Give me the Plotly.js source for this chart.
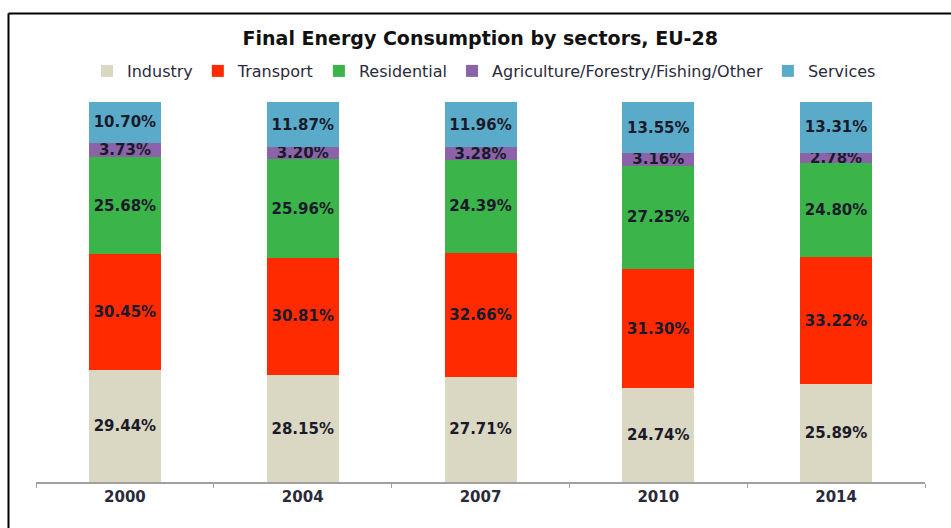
<!DOCTYPE html>
<html>
<head>
<meta charset="utf-8">
<script src="https://cdn.plot.ly/plotly-3.0.1.min.js"></script>
<style>html,body{margin:0;padding:0;background:#fff;}#chart{width:951px;height:528px;}</style>
</head>
<body>
<div id="chart"></div>
<script>
const years = ["2000", "2004", "2007", "2010", "2014"];
const industry = [29.44, 28.15, 27.71, 24.74, 25.89];
const transport = [30.45, 30.81, 32.66, 31.30, 33.22];
const residential = [25.68, 25.96, 24.39, 27.25, 24.80];
const agriculture = [3.73, 3.20, 3.28, 3.16, 2.78];
const services = [10.70, 11.87, 11.96, 13.55, 13.31];

const seriesNames = ["Industry", "Transport", "Residential", "Agriculture/Forestry/Fishing/Other", "Services"];
const seriesValues = [industry, transport, residential, agriculture, services];
const seriesColors = ["#DAD8C2", "#FF2A00", "#3BB449", "#8A63A8", "#5AABC9"];

const traces = seriesNames.map((name, i) => ({
  type: "bar",
  name: name,
  x: years,
  y: seriesValues[i],
  marker: {color: seriesColors[i]},
  text: seriesValues[i].map(v => v.toFixed(2) + "%"),
  textposition: "inside",
  insidetextanchor: "middle",
  textangle: 0,
  constraintext: "none",
  textfont: {family: "DejaVu Sans", size: 15, color: "#1a1a2a", weight: "bold"},
  hoverinfo: "skip"
}));

const W = 951, H = 528, L = 36, R = 26, T = 102, B = 46;
const pw = W - L - R, ph = H - T - B;
const px = x => (x - L) / pw;
const py = y => (H - B - y) / ph;

const layout = {
  width: W, height: H,
  barmode: "stack",
  bargap: 0.595,
  margin: {l: L, r: R, t: T, b: B},
  paper_bgcolor: "#fff",
  plot_bgcolor: "#fff",
  showlegend: true,
  title: {
    text: "<b>Final Energy Consumption by sectors, EU-28</b>",
    font: {family: "DejaVu Sans", size: 19, color: "#111"},
    x: 0.505, xanchor: "center",
    y: 1 - 38 / H, yanchor: "middle"
  },
  legend: {
    orientation: "h",
    x: px(484), xanchor: "center",
    y: py(71), yanchor: "middle",
    font: {family: "DejaVu Sans", size: 16, color: "#2a2a3a"},
    traceorder: "normal",
    itemwidth: 30,
    itemclick: false
  },
  xaxis: {
    type: "category",
    showgrid: false,
    showline: true,
    linecolor: "#a0a0a0",
    linewidth: 1.5,
    ticks: "outside",
    tickson: "boundaries",
    ticklen: 4,
    tickcolor: "#a0a0a0",
    tickfont: {family: "DejaVu Sans", size: 15, color: "#2a2a3a", weight: "bold"},
    fixedrange: true
  },
  yaxis: {
    range: [0, 100],
    visible: false,
    fixedrange: true
  },
  shapes: [
    {type: "line", xref: "paper", yref: "paper", x0: px(8.5), x1: px(951), y0: py(13.5), y1: py(13.5), line: {color: "#000", width: 2}},
    {type: "line", xref: "paper", yref: "paper", x0: px(8.5), x1: px(8.5), y0: py(13.5), y1: py(528), line: {color: "#000", width: 2}}
  ],
  font: {family: "DejaVu Sans"}
};

Plotly.newPlot("chart", traces, layout, {displayModeBar: false, staticPlot: true});
</script>
</body>
</html>
